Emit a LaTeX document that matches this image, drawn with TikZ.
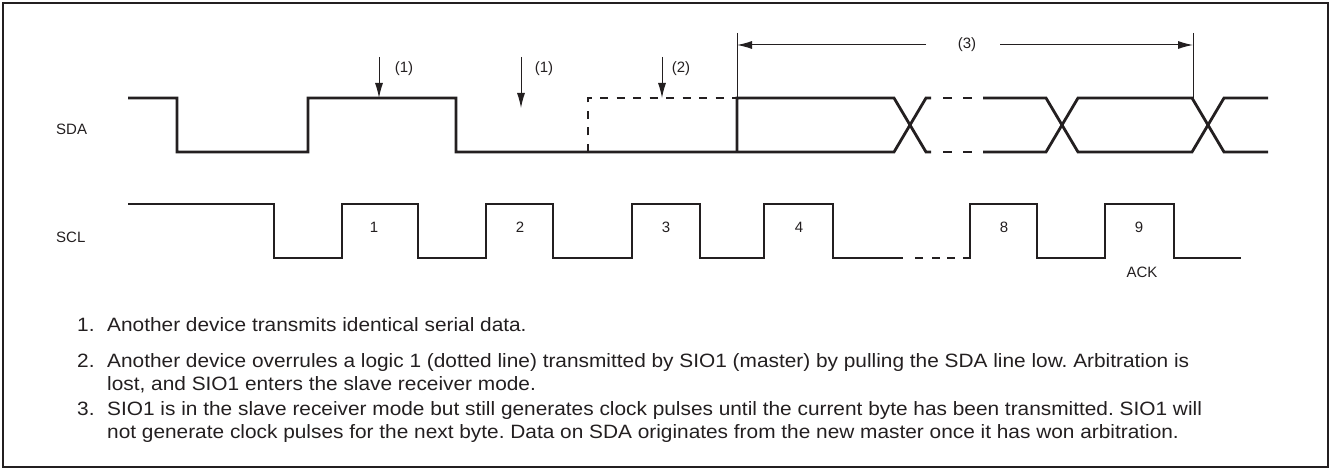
\documentclass[tikz,border=0pt]{standalone}
\usepackage{fontspec}
\setmainfont{Liberation Sans}
\newfontfamily\notefont[FakeStretch=1.08]{Liberation Sans}
\usetikzlibrary{arrows.meta}
\definecolor{ink}{RGB}{35,31,32}
\frenchspacing
\begin{document}
\begin{tikzpicture}[x=1pt,y=-1pt,
  sig/.style={draw=ink,line width=2.8pt,line join=miter},
  dsig/.style={draw=ink,line width=2.8pt,dash pattern=on 8pt off 8.5pt},
  thinln/.style={draw=ink,line width=1pt},
  tip/.style={-{Latex[length=15pt,width=8pt]}},
  lab/.style={font=\fontsize{15}{18}\selectfont,inner sep=0pt,text=ink},
  note/.style={font=\notefont\fontsize{19.3}{23}\selectfont,inner sep=0pt,anchor=base west,text=ink}]
\useasboundingbox (0,0) rectangle (1331,470);
\draw[ink,line width=1.5pt] (3,3) rectangle (1328,467);

% signal labels
\node[lab,anchor=west] (sda) at (56,129) {SDA};
\node[lab,anchor=west] (scl) at (56,237) {SCL};

% SDA waveform
\draw[sig] (128,98) -- (177,98) -- (177,152) -- (308,152) -- (308,98) -- (456,98)
  -- (456,152) -- (894,152) -- (926,98) -- (931,98);
\draw[sig] (737,152) -- (737,98) -- (894,98) -- (926,152) -- (931,152);
\draw[dsig] (588,152) -- (588,98) -- (737,98);
\foreach \y in {98,152} {
  \draw[sig] (943,\y) -- (952,\y);
  \draw[sig] (963,\y) -- (972,\y);
}
\draw[sig] (983,98) -- (1046,98) -- (1078,152) -- (1192,152) -- (1224,98) -- (1268,98);
\draw[sig] (983,152) -- (1046,152) -- (1078,98) -- (1192,98) -- (1224,152) -- (1268,152);

% SCL waveform
\draw[sig] (128,204) -- (274,204) -- (274,258) -- (342,258) -- (342,204) -- (418,204)
  -- (418,258) -- (486,258) -- (486,204) -- (553,204) -- (553,258) -- (632,258)
  -- (632,204) -- (700,204) -- (700,258) -- (764,258) -- (764,204) -- (833,204)
  -- (833,258) -- (903,258);
\draw[sig] (915,258) -- (923,258);
\draw[sig] (932,258) -- (940,258);
\draw[sig] (947,258) -- (955,258);
\draw[sig] (963,258) -- (970,258) -- (970,204) -- (1037,204) -- (1037,258) -- (1105,258)
  -- (1105,204) -- (1174,204) -- (1174,258) -- (1241,258);

% pulse numbers
\node[lab] (p1) at (374,227) {1};
\node[lab] (p2) at (520,227) {2};
\node[lab] (p3) at (666,227) {3};
\node[lab] (p4) at (799,227) {4};
\node[lab] (p8) at (1004,227) {8};
\node[lab] (p9) at (1139,227) {9};
\node[lab] (ack) at (1142,272) {ACK};

% down arrows
\coordinate (a1s) at (379,57); \coordinate (a1e) at (379,98);
\coordinate (a2s) at (521,57); \coordinate (a2e) at (521,108);
\coordinate (a3s) at (662,57); \coordinate (a3e) at (662,98);
\draw[thinln,tip] (a1s) -- (a1e);
\draw[thinln,tip] (a2s) -- (a2e);
\draw[thinln,tip] (a3s) -- (a3e);
\node[lab] (l1) at (404,69) {(1)};
\node[lab] (l2) at (544,69) {(1)};
\node[lab] (l3) at (681,69) {(2)};

% (3) dimension
\coordinate (v1t) at (737,33); \coordinate (v1b) at (737,98);
\coordinate (v2t) at (1193,33); \coordinate (v2b) at (1193,98);
\draw[thinln] (v1t) -- (v1b);
\draw[thinln] (v2t) -- (v2b);
\node[lab] (l4) at (967,45) {(3)};
\coordinate (d1) at (737,45); \coordinate (d2) at (1193,45);
\draw[thinln,tip] (926,45) -- (d1);
\draw[thinln,tip] (1000,45) -- (d2);

% notes
\node[note] (n1) at (77,332) {1.};
\node[note] (t1) at (107,332) {Another device transmits identical serial data.};
\node[note] (n2) at (77,367) {2.};
\node[note] (t2) at (107,367) {Another device overrules a logic 1 (dotted line) transmitted by SIO1 (master) by pulling the SDA line low. Arbitration is};
\node[note] (t2b) at (107,390) {lost, and SIO1 enters the slave receiver mode.};
\node[note] (n3) at (77,415) {3.};
\node[note] (t3) at (107,415) {SIO1 is in the slave receiver mode but still generates clock pulses until the current byte has been transmitted. SIO1 will};
\node[note] (t3b) at (107,438) {not generate clock pulses for the next byte. Data on SDA originates from the new master once it has won arbitration.};
\end{tikzpicture}
\end{document}
